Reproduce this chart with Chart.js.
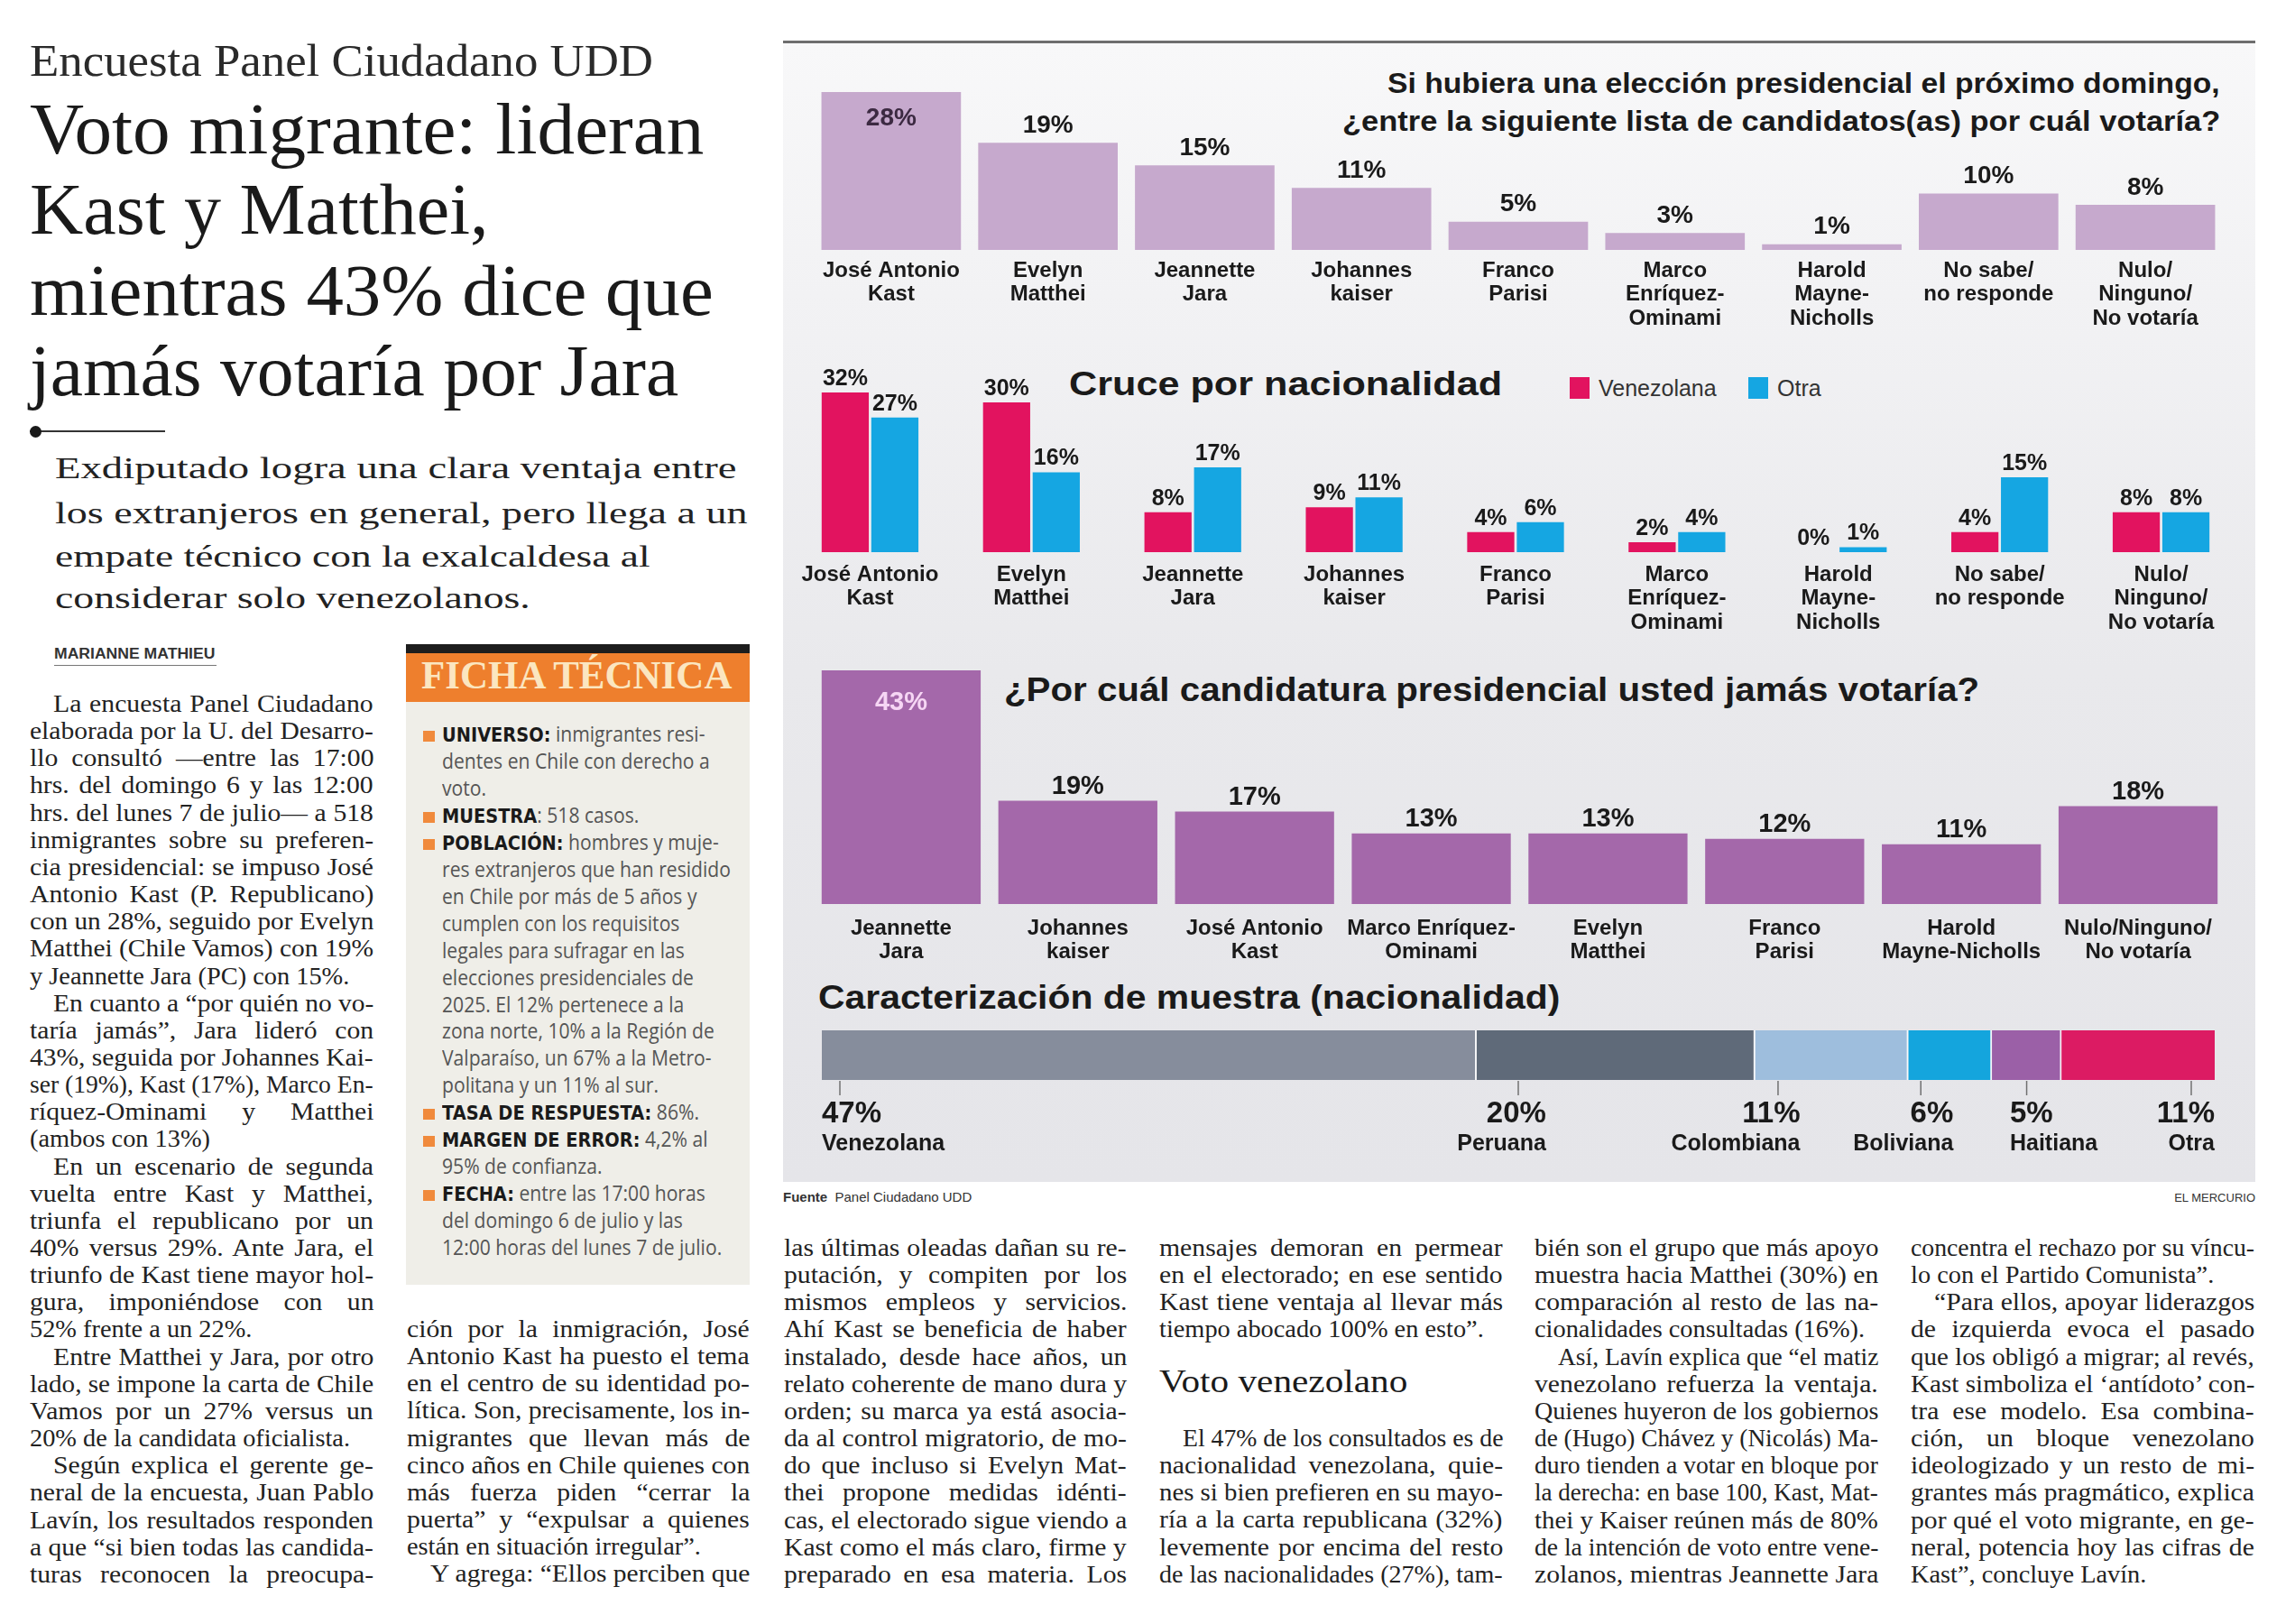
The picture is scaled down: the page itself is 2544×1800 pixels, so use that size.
<!DOCTYPE html>
<html lang="es">
<head>
<meta charset="UTF-8">
<meta name="viewport" content="width=device-width, initial-scale=1.0">
<title>Voto migrante - Encuesta Panel Ciudadano UDD</title>
<script src="https://cdn.jsdelivr.net/npm/chart.js"></script>
<style>
    html, body { margin: 0; padding: 0; background: #fff; }
    #page { position: relative; width: 2544px; height: 1800px; overflow: hidden; background: #fff; color: #1c1c1c; }
    .abs { position: absolute; white-space: nowrap; }
    .fit { display: inline-block; transform-origin: left center; }
    .right .fit { transform-origin: right center; }
    .serif { font-family: "Liberation Serif", "Times New Roman", serif; }
    .sans { font-family: "Liberation Sans", Arial, sans-serif; }
    .head { font-size: 80px; line-height: 80px; color: #1a1a1a; }
    .sub { font-size: 34px; line-height: 34px; color: #222; }
    .line { position: absolute; height: 30px; line-height: 30px; font-family: "Liberation Serif", serif; font-size: 27px; color: #222; white-space: nowrap; }
    .line span { display: inline-block; transform-origin: left center; }
    #panel { position: absolute; left: 868px; top: 45px; width: 1632px; height: 1262px;
             border-top: 3px solid #6e6e6e;
             background: linear-gradient(to bottom, #f8f8f9 0%, #f2f2f4 22%, #e9e9ec 55%, #e5e5e9 100%); }
    canvas { position: absolute; }
    .ctitle { font-family: "Liberation Sans", Arial, sans-serif; font-weight: bold; color: #1a1a1a; }
    .fl { position: absolute; left: 490px; height: 30px; line-height: 30px; white-space: nowrap;
          font-family: "Open Sans", "Noto Sans", sans-serif; font-size: 24px; color: #555;
          transform: scaleX(0.88); transform-origin: left center; }
    .fl b { font-family: "DejaVu Sans", sans-serif; font-size: 22px; color: #1a1a1a; }
    .bullet { position: absolute; left: 469px; width: 13px; height: 12px; background: #f08a3c; }
</style>
</head>
<body>
<div id="page">
    <!-- cabecera izquierda -->
    <div class="abs serif" style="left:33px; top:42px; font-size:50px; line-height:50px; color:#2a2a2a;"><span class="fit" data-w="691">Encuesta Panel Ciudadano UDD</span></div>
    <div class="abs serif head" style="left:33px; top:103px;"><span class="fit" data-w="747">Voto migrante: lideran</span></div>
    <div class="abs serif head" style="left:33px; top:192px;"><span class="fit" data-w="508">Kast y Matthei,</span></div>
    <div class="abs serif head" style="left:33px; top:282px;"><span class="fit" data-w="758">mientras 43% dice que</span></div>
    <div class="abs serif head" style="left:33px; top:371px;"><span class="fit" data-w="719">jamás votaría por Jara</span></div>
    <div class="abs" style="left:33px; top:477px; width:150px; height:2px; background:#333;"></div>
    <div class="abs" style="left:33px; top:472px; width:13px; height:13px; border-radius:50%; background:#1a1a1a;"></div>
    <div class="abs serif sub" style="left:61px; top:502px;"><span class="fit" data-w="755">Exdiputado logra una clara ventaja entre</span></div>
    <div class="abs serif sub" style="left:61px; top:552px;"><span class="fit" data-w="767">los extranjeros en general, pero llega a un</span></div>
    <div class="abs serif sub" style="left:61px; top:600px;"><span class="fit" data-w="660">empate técnico con la exalcaldesa al</span></div>
    <div class="abs serif sub" style="left:61px; top:646px;"><span class="fit" data-w="527">considerar solo venezolanos.</span></div>
    <div class="abs sans" style="left:60px; top:716px; font-size:16px; line-height:18px; font-weight:bold; color:#333;"><span class="fit" data-w="178">MARIANNE MATHIEU</span></div>
    <div class="abs" style="left:60px; top:737px; width:180px; height:1px; background:#777;"></div>

    <!-- ficha técnica -->
    <div class="abs" style="left:450px; top:714px; width:381px; height:10px; background:#1d1d1d;"></div>
    <div class="abs" style="left:450px; top:724px; width:381px; height:54px; background:#ee7f2d;"></div>
    <div class="abs" style="left:450px; top:778px; width:381px; height:646px; background:#efeee8;"></div>
    <div class="abs serif" style="left:467px; top:727px; font-size:44px; line-height:44px; font-weight:bold; color:#fbe6c0;"><span class="fit" data-w="344">FICHA TÉCNICA</span></div>

    <!-- infografía -->
    <div id="panel"></div>
    <div class="abs ctitle right" style="right:83px; top:76px; font-size:32px; line-height:32px;"><span class="fit" data-w="923">Si hubiera una elección presidencial el próximo domingo,</span></div>
    <div class="abs ctitle right" style="right:83px; top:118px; font-size:32px; line-height:32px;"><span class="fit" data-w="973">¿entre la siguiente lista de candidatos(as) por cuál votaría?</span></div>
    <canvas id="c1" width="1630" height="317" style="left:870px; top:60px;"></canvas>

    <div class="abs ctitle" style="left:1185px; top:408px; font-size:36px; line-height:36px;"><span class="fit" data-w="480">Cruce por nacionalidad</span></div>
    <div class="abs" style="left:1740px; top:418px; width:22px; height:24px; background:#e2135f;"></div>
    <div class="abs sans" style="left:1772px; top:418px; font-size:25px; line-height:25px; color:#333;">Venezolana</div>
    <div class="abs" style="left:1938px; top:418px; width:22px; height:24px; background:#15a6e2;"></div>
    <div class="abs sans" style="left:1970px; top:418px; font-size:25px; line-height:25px; color:#333;">Otra</div>
    <canvas id="c2" width="1630" height="312" style="left:870px; top:400px;"></canvas>

    <div class="abs ctitle" style="left:1113px; top:746px; font-size:37px; line-height:37px;"><span class="fit" data-w="1081">¿Por cuál candidatura presidencial usted jamás votaría?</span></div>
    <canvas id="c3" width="1630" height="367" style="left:870px; top:715px;"></canvas>

    <div class="abs ctitle" style="left:907px; top:1088px; font-size:36px; line-height:36px;"><span class="fit" data-w="822">Caracterización de muestra (nacionalidad)</span></div>
    <canvas id="c4" width="1630" height="155" style="left:870px; top:1135px;"></canvas>

    <div class="abs sans" style="left:868px; top:1318px; font-size:15px; line-height:18px; color:#333;"><b>Fuente</b>&nbsp; Panel Ciudadano UDD</div>
    <div class="abs sans" style="right:44px; top:1319px; font-size:13px; line-height:18px; color:#333;">EL MERCURIO</div>
</div>

<script>
    // Datos del gráfico
    const candidates = ['José Antonio\nKast', 'Evelyn\nMatthei', 'Jeannette\nJara', 'Johannes\nkaiser', 'Franco\nParisi',
        'Marco\nEnríquez-\nOminami', 'Harold\nMayne-\nNicholls', 'No sabe/\nno responde', 'Nulo/\nNinguno/\nNo votaría'];
    const voteIntention = [28, 19, 15, 11, 5, 3, 1, 10, 8];
    const voteVenezolana = [32, 30, 8, 9, 4, 2, 0, 4, 8];
    const voteOtra = [27, 16, 17, 11, 6, 4, 1, 15, 8];
    const rejectCandidates = ['Jeannette\nJara', 'Johannes\nkaiser', 'José Antonio\nKast', 'Marco Enríquez-\nOminami',
        'Evelyn\nMatthei', 'Franco\nParisi', 'Harold\nMayne-Nicholls', 'Nulo/Ninguno/\nNo votaría'];
    const rejectValues = [43, 19, 17, 13, 13, 12, 11, 18];
    const nationalities = ['Venezolana', 'Peruana', 'Colombiana', 'Boliviana', 'Haitiana', 'Otra'];
    const nationalityShare = [47, 20, 11, 6, 5, 11];

    const nationalityColors = ['#868d9c', '#5f6a79', '#9ebedd', '#14a5dd', '#9b60a7', '#dc1b63'];
    const nationalityAlign = ['left', 'right', 'right', 'right', 'left', 'right'];

    // Texto del artículo
    const fichaLines = [
        ['UNIVERSO:', ' inmigrantes resi-'],
        ['', 'dentes en Chile con derecho a'],
        ['', 'voto.'],
        ['MUESTRA', ': 518 casos.'],
        ['POBLACIÓN:', ' hombres y muje-'],
        ['', 'res extranjeros que han residido'],
        ['', 'en Chile por más de 5 años y'],
        ['', 'cumplen con los requisitos'],
        ['', 'legales para sufragar en las'],
        ['', 'elecciones presidenciales de'],
        ['', '2025. El 12% pertenece a la'],
        ['', 'zona norte, 10% a la Región de'],
        ['', 'Valparaíso, un 67% a la Metro-'],
        ['', 'politana y un 11% al sur.'],
        ['TASA DE RESPUESTA:', ' 86%.'],
        ['MARGEN DE ERROR:', ' 4,2% al'],
        ['', '95% de confianza.'],
        ['FECHA:', ' entre las 17:00 horas'],
        ['', 'del domingo 6 de julio y las'],
        ['', '12:00 horas del lunes 7 de julio.']
    ];

    // '>' = sangría, '|' = fin de párrafo
    const columns = [
        { x: 33, w: 381, c: 784, lines: [
            '>La encuesta Panel Ciudadano', 'elaborada por la U. del Desarro-', 'llo consultó —entre las 17:00',
            'hrs. del domingo 6 y las 12:00', 'hrs. del lunes 7 de julio— a 518', 'inmigrantes sobre su preferen-',
            'cia presidencial: se impuso José', 'Antonio Kast (P. Republicano)', 'con un 28%, seguido por Evelyn',
            'Matthei (Chile Vamos) con 19%', 'y Jeannette Jara (PC) con 15%.|',
            '>En cuanto a “por quién no vo-', 'taría jamás”, Jara lideró con', '43%, seguida por Johannes Kai-',
            'ser (19%), Kast (17%), Marco En-', 'ríquez-Ominami y Matthei', '(ambos con 13%)|',
            '>En un escenario de segunda', 'vuelta entre Kast y Matthei,', 'triunfa el republicano por un',
            '40% versus 29%. Ante Jara, el', 'triunfo de Kast tiene mayor hol-', 'gura, imponiéndose con un',
            '52% frente a un 22%.|',
            '>Entre Matthei y Jara, por otro', 'lado, se impone la carta de Chile', 'Vamos por un 27% versus un',
            '20% de la candidata oficialista.|',
            '>Según explica el gerente ge-', 'neral de la encuesta, Juan Pablo', 'Lavín, los resultados responden',
            'a que “si bien todas las candida-', 'turas reconocen la preocupa-'] },
        { x: 451, w: 380, c: 1477, lines: [
            'ción por la inmigración, José', 'Antonio Kast ha puesto el tema', 'en el centro de su identidad po-',
            'lítica. Son, precisamente, los in-', 'migrantes que llevan más de', 'cinco años en Chile quienes con',
            'más fuerza piden “cerrar la', 'puerta” y “expulsar a quienes', 'están en situación irregular”.|',
            '>Y agrega: “Ellos perciben que'] },
        { x: 869, w: 380, c: 1387, lines: [
            'las últimas oleadas dañan su re-', 'putación, y compiten por los', 'mismos empleos y servicios.',
            'Ahí Kast se beneficia de haber', 'instalado, desde hace años, un', 'relato coherente de mano dura y',
            'orden; su marca ya está asocia-', 'da al control migratorio, de mo-', 'do que incluso si Evelyn Mat-',
            'thei propone medidas idénti-', 'cas, el electorado sigue viendo a', 'Kast como el más claro, firme y',
            'preparado en esa materia. Los'] },
        { x: 1285, w: 381, c: 1387, lines: [
            'mensajes demoran en permear', 'en el electorado; en ese sentido', 'Kast tiene ventaja al llevar más',
            'tiempo abocado 100% en esto”.|'] },
        { x: 1285, w: 381, c: 1598, lines: [
            '>El 47% de los consultados es de', 'nacionalidad venezolana, quie-', 'nes si bien prefieren en su mayo-',
            'ría a la carta republicana (32%)', 'levemente por encima del resto', 'de las nacionalidades (27%), tam-'] },
        { x: 1701, w: 381, c: 1387, lines: [
            'bién son el grupo que más apoyo', 'muestra hacia Matthei (30%) en', 'comparación al resto de las na-',
            'cionalidades consultadas (16%).|', '>Así, Lavín explica que “el matiz', 'venezolano refuerza la ventaja.',
            'Quienes huyeron de los gobiernos', 'de (Hugo) Chávez y (Nicolás) Ma-', 'duro tienden a votar en bloque por',
            'la derecha: en base 100, Kast, Mat-', 'thei y Kaiser reúnen más de 80%', 'de la intención de voto entre vene-',
            'zolanos, mientras Jeannette Jara'] },
        { x: 2118, w: 381, c: 1387, lines: [
            'concentra el rechazo por su víncu-', 'lo con el Partido Comunista”.|', '>“Para ellos, apoyar liderazgos',
            'de izquierda evoca el pasado', 'que los obligó a migrar; al revés,', 'Kast simboliza el ‘antídoto’ con-',
            'tra ese modelo. Esa combina-', 'ción, un bloque venezolano', 'ideologizado y un resto de mi-',
            'grantes más pragmático, explica', 'por qué el voto migrante, en ge-', 'neral, potencia hoy las cifras de',
            'Kast”, concluye Lavín.|'] }
    ];

    const page = document.getElementById('page');

    // Ficha técnica
    fichaLines.forEach((l, i) => {
        const top = 798 + i * 29.95;
        const div = document.createElement('div');
        div.className = 'fl';
        div.style.top = top + 'px';
        if (l[0]) {
            const b = document.createElement('b');
            b.textContent = l[0];
            div.appendChild(b);
            const sq = document.createElement('div');
            sq.className = 'bullet';
            sq.style.top = (top + 12) + 'px';
            page.appendChild(sq);
        }
        div.appendChild(document.createTextNode(l[1]));
        page.appendChild(div);
    });

    // Columnas de texto
    columns.forEach(col => {
        col.lines.forEach((raw, i) => {
            let text = raw, indent = 0, last = false;
            if (text.startsWith('>')) { indent = 26; text = text.slice(1); }
            if (text.endsWith('|')) { last = true; text = text.slice(0, -1); }
            const div = document.createElement('div');
            div.className = 'line';
            div.style.left = (col.x + indent) + 'px';
            div.style.top = (col.c + i * 30.15 - 19) + 'px';
            div.dataset.w = col.w - indent;
            if (last) div.dataset.last = '1';
            const span = document.createElement('span');
            span.textContent = text;
            div.appendChild(span);
            page.appendChild(div);
        });
    });
    const vv = document.createElement('div');
    vv.className = 'abs serif';
    vv.style.cssText = 'left:1285px; top:1513px; font-size:36px; line-height:36px; color:#1a1a1a;';
    vv.innerHTML = '<span class="fit" data-w="275">Voto venezolano</span>';
    page.appendChild(vv);

    function fitText() {
        document.querySelectorAll('.fit').forEach(el => {
            const target = parseFloat(el.dataset.w);
            el.style.transform = 'scaleX(' + (target / el.offsetWidth) + ')';
        });
        // justificado: un poco de ensanche horizontal y el resto en espacios
        document.querySelectorAll('.line').forEach(div => {
            const span = div.firstChild;
            const target = parseFloat(div.dataset.w);
            const natural = span.offsetWidth;
            let s = Math.min(Math.max(target / natural, 0.8), 1.1);
            if (div.dataset.last) s = Math.min(s, 1.05);
            span.style.transform = 'scaleX(' + s + ')';
            if (!div.dataset.last) {
                const spaces = (span.textContent.match(/ /g) || []).length;
                if (spaces) span.style.wordSpacing = ((target / s - natural) / spaces) + 'px';
            }
        });
    }
    fitText();

    // Etiquetas de valor sobre las barras
    const valueLabels = {
        id: 'valueLabels',
        afterDatasetsDraw(chart, args, opts) {
            const ctx = chart.ctx;
            ctx.save();
            ctx.font = opts.font;
            ctx.textAlign = 'center';
            ctx.textBaseline = 'middle';
            chart.data.datasets.forEach((ds, di) => {
                const max = Math.max(...ds.data);
                chart.getDatasetMeta(di).data.forEach((bar, i) => {
                    const v = ds.data[i];
                    const inside = opts.inside && v === max;
                    ctx.fillStyle = inside ? opts.insideColor : opts.color;
                    ctx.fillText(v + '%', bar.x, inside ? bar.y + opts.insideOffset : bar.y - opts.offset);
                });
            });
            ctx.restore();
        }
    };

    // Etiquetas de la barra apilada
    const shareLabels = {
        id: 'shareLabels',
        afterDatasetsDraw(chart) {
            const ctx = chart.ctx;
            const n = chart.data.datasets.length;
            ctx.save();
            chart.data.datasets.forEach((ds, i) => {
                const bar = chart.getDatasetMeta(i).data[0];
                const start = Math.min(bar.base, bar.x), end = Math.max(bar.base, bar.x);
                const w = end - start;
                const bottom = bar.y + bar.height / 2;
                const align = nationalityAlign[i];
                let tick;
                if (i === 0) tick = start + 20;
                else if (i === n - 1) tick = end - 26;
                else if (align === 'left') tick = start + w / 2;
                else tick = start + Math.min(47, w * 0.15);
                ctx.strokeStyle = '#707070';
                ctx.lineWidth = 1.5;
                ctx.beginPath();
                ctx.moveTo(tick, bottom + 1);
                ctx.lineTo(tick, bottom + 17);
                ctx.stroke();

                let x;
                if (i === 0) x = start;
                else if (i === n - 1) x = end;
                else if (align === 'left') x = start + 20;
                else x = start + Math.max(50, Math.min(w * 0.25, 90));
                ctx.textAlign = align;
                ctx.textBaseline = 'middle';
                ctx.fillStyle = '#1a1a1a';
                ctx.font = 'bold 33px "Liberation Sans", Arial, sans-serif';
                ctx.fillText(ds.data[0] + '%', x, bottom + 38);
                ctx.font = 'bold 25px "Liberation Sans", Arial, sans-serif';
                ctx.fillText(ds.label, x, bottom + 71);
            });
            ctx.restore();
        }
    };

    Chart.defaults.font.family = '"Liberation Sans", Arial, sans-serif';
    Chart.defaults.color = '#1a1a1a';

    function barChart(id, labels, datasets, yMax, padding, axisHeight, tickPad, labelOpts) {
        return new Chart(document.getElementById(id), {
            type: 'bar',
            data: { labels: labels.map(s => s.split('\n')), datasets: datasets },
            options: {
                responsive: false,
                devicePixelRatio: 1,
                animation: false,
                layout: { padding: padding },
                plugins: { legend: { display: false }, tooltip: { enabled: false }, valueLabels: labelOpts },
                scales: {
                    x: {
                        grid: { display: false, drawTicks: false },
                        border: { display: false },
                        ticks: { padding: tickPad, maxRotation: 0, autoSkip: false, color: '#1a1a1a',
                                 font: { size: 24, weight: 'bold', lineHeight: 1.1 } },
                        afterFit: scale => { scale.height = axisHeight; }
                    },
                    y: { display: false, min: 0, max: yMax }
                }
            },
            plugins: [valueLabels]
        });
    }

    barChart('c1', candidates,
        [{ data: voteIntention, backgroundColor: '#c6a9cd', categoryPercentage: 1, barPercentage: 0.89 }],
        30, { left: 31, right: 35, top: 29.5, bottom: 0 }, 100, 10,
        { font: 'bold 28px "Liberation Sans", Arial, sans-serif', color: '#1a1a1a', offset: 19,
          inside: true, insideOffset: 29, insideColor: '#3c2a42' });

    barChart('c2', candidates,
        [{ label: 'Venezolana', data: voteVenezolana, backgroundColor: '#e2135f', categoryPercentage: 0.615, barPercentage: 0.95 },
         { label: 'Otra', data: voteOtra, backgroundColor: '#15a6e2', categoryPercentage: 0.615, barPercentage: 0.95 }],
        35, { left: 5, right: 15, top: 18.4, bottom: 0 }, 100, 12,
        { font: 'bold 25px "Liberation Sans", Arial, sans-serif', color: '#1a1a1a', offset: 15, inside: false });

    barChart('c3', rejectCandidates,
        [{ data: rejectValues, backgroundColor: '#a468aa', categoryPercentage: 1, barPercentage: 0.9 }],
        45, { left: 31, right: 32, top: 16, bottom: 0 }, 80, 14,
        { font: 'bold 29px "Liberation Sans", Arial, sans-serif', color: '#1a1a1a', offset: 16,
          inside: true, insideOffset: 36, insideColor: '#f6d6f4' });

    new Chart(document.getElementById('c4'), {
        type: 'bar',
        data: {
            labels: ['Nacionalidad'],
            datasets: nationalities.map((name, i) => ({
                label: name,
                data: [nationalityShare[i]],
                backgroundColor: nationalityColors[i],
                borderColor: 'rgba(255,255,255,0.7)',
                borderWidth: i === nationalities.length - 1 ? 0 : { right: 2 },
                borderSkipped: false,
                categoryPercentage: 1,
                barPercentage: 1
            }))
        },
        options: {
            indexAxis: 'y',
            responsive: false,
            devicePixelRatio: 1,
            animation: false,
            layout: { padding: { left: 41, right: 45, top: 7, bottom: 93 } },
            plugins: { legend: { display: false }, tooltip: { enabled: false } },
            scales: {
                x: { display: false, stacked: true, min: 0, max: 100 },
                y: { display: false, stacked: true }
            }
        },
        plugins: [shareLabels]
    });
</script>
</body>
</html>
